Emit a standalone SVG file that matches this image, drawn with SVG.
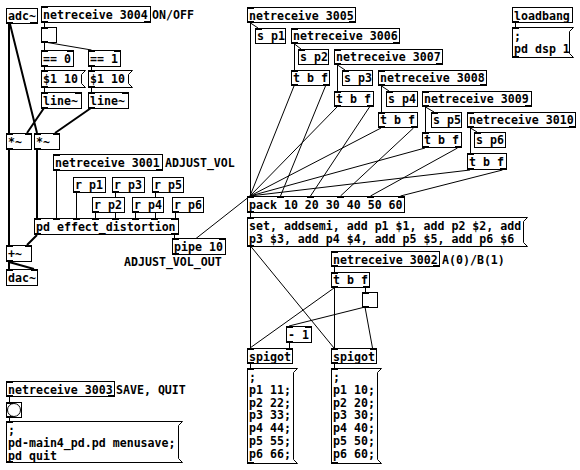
<svg xmlns="http://www.w3.org/2000/svg" width="580" height="470" viewBox="0 0 580 470">
<style>
.b{fill:#fff;stroke:#000;stroke-width:1}
.t{font-family:"DejaVu Sans Mono","Liberation Mono",monospace;font-weight:bold;font-size:11.6px;fill:#000;white-space:pre}
.c{stroke:#000;stroke-width:1;fill:none}
.s{stroke:#000;stroke-width:2;fill:none}
.io{fill:#000}
</style>
<rect width="580" height="470" fill="#fff"/>
<g id="connectors">
<!-- left control -->
<path class="c" d="M44.5,23 V27 M44.5,42 V50 M44.5,42 L91.5,50 M44.5,66 V70 M91.5,66 V70 M44.5,87 V92 M91.5,87 V92"/>
<path class="c" d="M56.5,171 V218 M76.5,193 V218 M115.5,193 V218 M155.5,193 V218 M95.5,213 V218 M135.5,213 V218 M175.5,213 V218 M174.5,235 V238"/>
<path class="c" d="M175,255 L250,196"/>
<!-- left signal -->
<path class="s" d="M9,24 V133 M10,24 L37,133 M44,108 L27,133 M91,108 L55,133 M9,150 V245 M37,150 V218 M37,235 L27,245 M9,262 V269 M9,262 L34,269"/>
<!-- right control -->
<path class="c" d="M250.5,23 L258,28 M250.5,23 V196 M294.5,44 L301,49 M294.5,44 V70 M337.5,65 L345,70 M337.5,65 V91 M381.5,86 L389,91 M381.5,86 V112 M425.5,107 L434,112 M425.5,107 V132 M470.5,128 L477,132 M470.5,128 V153"/>
<path class="c" d="M294,86 L250,196 M325.5,86 L280.5,196 M337,107 L250,196 M369.5,107 L310.5,196 M381,128 L250,196 M413.5,128 L340.5,196 M425,148 L250,196 M457.5,148 L370.5,196 M470,170 L250,196 M502.5,170 L400.5,196"/>
<path class="c" d="M250.5,213 V217 M250.5,246 V348 M250.5,246 L334,348 M334.5,267 V272 M334.5,288 V348 M334,288 L250,348 M365.5,288 V292 M365,307 L289,326 M365,307 L372.5,348 M289.5,343 V348 M250.5,364 V368 M334.5,364 V368 M515.5,23 V27 M9.5,397 V402 M9.5,417 V421"/>
</g>

<g id="adc">
<rect class="b" x="6.5" y="8.5" width="31" height="15"/>
<text class="t" x="8" y="20">adc~</text>
<rect class="io" x="6" y="22" width="7" height="2"/><rect class="io" x="30" y="22" width="7" height="2"/>
</g>
<g id="nr3004">
<rect class="b" x="41.5" y="6.5" width="109" height="16"/>
<text class="t" x="43" y="19">netreceive 3004</text>
<rect class="io" x="41" y="6" width="7" height="2"/><rect class="io" x="41" y="21" width="7" height="2"/><rect class="io" x="144" y="21" width="7" height="2"/>
<text class="t" x="152" y="19">ON/OFF</text>
</g>
<g id="toggle1">
<rect class="b" x="41.5" y="27.5" width="15" height="15"/>
<rect class="io" x="41" y="27" width="7" height="2"/><rect class="io" x="41" y="41" width="7" height="2"/>
</g>
<g id="eq0">
<rect class="b" x="41.5" y="50.5" width="32" height="16"/>
<text class="t" x="43" y="63">== 0</text>
<rect class="io" x="41" y="50" width="7" height="2"/><rect class="io" x="67" y="50" width="7" height="2"/><rect class="io" x="41" y="65" width="7" height="2"/>
</g>
<g id="eq1">
<rect class="b" x="88.5" y="50.5" width="32" height="16"/>
<text class="t" x="90" y="63">== 1</text>
<rect class="io" x="88" y="50" width="7" height="2"/><rect class="io" x="114" y="50" width="7" height="2"/><rect class="io" x="88" y="65" width="7" height="2"/>
</g>
<g id="msg1a">
<path class="b" d="M41.5,70.5 H85.5 L81.5,74.5 V83.5 L85.5,87.5 H41.5 Z"/>
<text class="t" x="43" y="83">$1 10</text>
<rect class="io" x="41" y="70" width="7" height="2"/><rect class="io" x="41" y="86" width="7" height="2"/>
</g>
<g id="msg1b">
<path class="b" d="M88.5,70.5 H132.5 L128.5,74.5 V83.5 L132.5,87.5 H88.5 Z"/>
<text class="t" x="90" y="83">$1 10</text>
<rect class="io" x="88" y="70" width="7" height="2"/><rect class="io" x="88" y="86" width="7" height="2"/>
</g>
<g id="line1">
<rect class="b" x="41.5" y="92.5" width="40" height="16"/>
<text class="t" x="43" y="105">line~</text>
<rect class="io" x="41" y="92" width="7" height="2"/><rect class="io" x="75" y="92" width="7" height="2"/><rect class="io" x="41" y="107" width="7" height="2"/>
</g>
<g id="line2">
<rect class="b" x="88.5" y="92.5" width="40" height="16"/>
<text class="t" x="90" y="105">line~</text>
<rect class="io" x="88" y="92" width="7" height="2"/><rect class="io" x="122" y="92" width="7" height="2"/><rect class="io" x="88" y="107" width="7" height="2"/>
</g>
<g id="mul1">
<rect class="b" x="6.5" y="133.5" width="25" height="16"/>
<text class="t" x="8" y="146">*~</text>
<rect class="io" x="6" y="133" width="7" height="2"/><rect class="io" x="25" y="133" width="7" height="2"/><rect class="io" x="6" y="148" width="7" height="2"/>
</g>
<g id="mul2">
<rect class="b" x="34.5" y="133.5" width="25" height="16"/>
<text class="t" x="36" y="146">*~</text>
<rect class="io" x="34" y="133" width="7" height="2"/><rect class="io" x="53" y="133" width="7" height="2"/><rect class="io" x="34" y="148" width="7" height="2"/>
</g>
<g id="nr3001">
<rect class="b" x="53.5" y="154.5" width="109" height="16"/>
<text class="t" x="55" y="167">netreceive 3001</text>
<rect class="io" x="53" y="154" width="7" height="2"/><rect class="io" x="53" y="169" width="7" height="2"/><rect class="io" x="156" y="169" width="7" height="2"/>
<text class="t" x="165" y="167">ADJUST_VOL</text>
</g>
<g id="rp1"><rect class="b" x="73.5" y="177.5" width="32" height="15"/><text class="t" x="75" y="189">r p1</text><rect class="io" x="73" y="191" width="7" height="2"/></g>
<g id="rp3"><rect class="b" x="112.5" y="177.5" width="32" height="15"/><text class="t" x="114" y="189">r p3</text><rect class="io" x="112" y="191" width="7" height="2"/></g>
<g id="rp5"><rect class="b" x="152.5" y="177.5" width="31" height="15"/><text class="t" x="154" y="189">r p5</text><rect class="io" x="152" y="191" width="7" height="2"/></g>
<g id="rp2"><rect class="b" x="92.5" y="197.5" width="32" height="15"/><text class="t" x="94" y="209">r p2</text><rect class="io" x="92" y="211" width="7" height="2"/></g>
<g id="rp4"><rect class="b" x="132.5" y="197.5" width="31" height="15"/><text class="t" x="134" y="209">r p4</text><rect class="io" x="132" y="211" width="7" height="2"/></g>
<g id="rp6"><rect class="b" x="172.5" y="197.5" width="31" height="15"/><text class="t" x="174" y="209">r p6</text><rect class="io" x="172" y="211" width="7" height="2"/></g>
<g id="effect">
<rect class="b" x="34.5" y="218.5" width="144" height="16"/>
<text class="t" x="36" y="231">pd effect_distortion</text>
<rect class="io" x="34" y="218" width="7" height="2"/><rect class="io" x="53" y="218" width="7" height="2"/><rect class="io" x="73" y="218" width="7" height="2"/><rect class="io" x="92" y="218" width="7" height="2"/><rect class="io" x="112" y="218" width="7" height="2"/><rect class="io" x="132" y="218" width="7" height="2"/><rect class="io" x="151" y="218" width="7" height="2"/><rect class="io" x="171" y="218" width="7" height="2"/>
<rect class="io" x="34" y="233" width="7" height="2"/><rect class="io" x="171" y="233" width="7" height="2"/>
</g>
<g id="pipe">
<rect class="b" x="172.5" y="238.5" width="53" height="16"/>
<text class="t" x="174" y="251">pipe 10</text>
<rect class="io" x="172" y="238" width="7" height="2"/><rect class="io" x="219" y="238" width="7" height="2"/><rect class="io" x="172" y="253" width="7" height="2"/>
<text class="t" x="124" y="266">ADJUST_VOL_OUT</text>
</g>
<g id="plus">
<rect class="b" x="6.5" y="245.5" width="25" height="16"/>
<text class="t" x="8" y="258">+~</text>
<rect class="io" x="6" y="245" width="7" height="2"/><rect class="io" x="25" y="245" width="7" height="2"/><rect class="io" x="6" y="260" width="7" height="2"/>
</g>
<g id="dac">
<rect class="b" x="6.5" y="269.5" width="31" height="16"/>
<text class="t" x="8" y="282">dac~</text>
<rect class="io" x="6" y="269" width="7" height="2"/><rect class="io" x="31" y="269" width="7" height="2"/>
</g>

<g id="nr3003">
<rect class="b" x="6.5" y="381.5" width="108" height="15"/>
<text class="t" x="8" y="394">netreceive 3003</text>
<rect class="io" x="6" y="381" width="7" height="2"/><rect class="io" x="6" y="395" width="7" height="2"/><rect class="io" x="108" y="395" width="7" height="2"/>
<text class="t" x="116" y="394">SAVE, QUIT</text>
</g>
<g id="bang">
<rect class="b" x="6.5" y="402.5" width="15" height="15"/>
<circle class="b" cx="14" cy="410" r="6.5"/>
<rect class="io" x="6" y="402" width="7" height="2"/><rect class="io" x="6" y="416" width="7" height="2"/>
</g>
<g id="msgsave">
<path class="b" d="M6.5,421.5 H182.5 L178.5,425.5 V458.5 L182.5,462.5 H6.5 Z"/>
<text class="t" x="8" y="434">;</text>
<text class="t" x="8" y="447">pd-main4_pd.pd menusave;</text>
<text class="t" x="8" y="460">pd quit</text>
<rect class="io" x="6" y="421" width="7" height="2"/><rect class="io" x="6" y="461" width="7" height="2"/>
</g>

<g id="nr3005">
<rect class="b" x="247.5" y="7.5" width="108" height="15"/>
<text class="t" x="249" y="20">netreceive 3005</text>
<rect class="io" x="247" y="7" width="7" height="2"/><rect class="io" x="247" y="21" width="7" height="2"/><rect class="io" x="349" y="21" width="7" height="2"/>
</g>
<g id="loadbang">
<rect class="b" x="512.5" y="7.5" width="60" height="15"/>
<text class="t" x="514" y="20">loadbang</text>
<rect class="io" x="512" y="21" width="7" height="2"/>
</g>
<g id="msgdsp">
<path class="b" d="M512.5,27.5 H573.5 L569.5,31.5 V53.5 L573.5,57.5 H512.5 Z"/>
<text class="t" x="514" y="40">;</text>
<text class="t" x="514" y="53">pd dsp 1</text>
<rect class="io" x="512" y="27" width="7" height="2"/><rect class="io" x="512" y="56" width="7" height="2"/>
</g>
<g id="sp1"><rect class="b" x="255.5" y="28.5" width="30" height="15"/><text class="t" x="257" y="40">s p1</text><rect class="io" x="255" y="28" width="7" height="2"/></g>
<g id="nr3006">
<rect class="b" x="291.5" y="28.5" width="108" height="15"/>
<text class="t" x="293" y="40">netreceive 3006</text>
<rect class="io" x="291" y="28" width="7" height="2"/><rect class="io" x="291" y="42" width="7" height="2"/><rect class="io" x="393" y="42" width="7" height="2"/>
</g>
<g id="sp2"><rect class="b" x="298.5" y="49.5" width="30" height="15"/><text class="t" x="300" y="61">s p2</text><rect class="io" x="298" y="49" width="7" height="2"/></g>
<g id="nr3007">
<rect class="b" x="334.5" y="49.5" width="108" height="15"/>
<text class="t" x="336" y="61">netreceive 3007</text>
<rect class="io" x="334" y="49" width="7" height="2"/><rect class="io" x="334" y="63" width="7" height="2"/><rect class="io" x="436" y="63" width="7" height="2"/>
</g>
<g id="tbf1">
<rect class="b" x="291.5" y="70.5" width="38" height="15"/>
<text class="t" x="293" y="82">t b f</text>
<rect class="io" x="291" y="70" width="7" height="2"/><rect class="io" x="291" y="84" width="7" height="2"/><rect class="io" x="323" y="84" width="7" height="2"/>
</g>
<g id="sp3"><rect class="b" x="342.5" y="70.5" width="30" height="15"/><text class="t" x="344" y="82">s p3</text><rect class="io" x="342" y="70" width="7" height="2"/></g>
<g id="nr3008">
<rect class="b" x="378.5" y="70.5" width="108" height="15"/>
<text class="t" x="380" y="82">netreceive 3008</text>
<rect class="io" x="378" y="70" width="7" height="2"/><rect class="io" x="378" y="84" width="7" height="2"/><rect class="io" x="480" y="84" width="7" height="2"/>
</g>
<g id="tbf2">
<rect class="b" x="334.5" y="91.5" width="39" height="15"/>
<text class="t" x="336" y="103">t b f</text>
<rect class="io" x="334" y="91" width="7" height="2"/><rect class="io" x="334" y="105" width="7" height="2"/><rect class="io" x="367" y="105" width="7" height="2"/>
</g>
<g id="sp4"><rect class="b" x="386.5" y="91.5" width="31" height="15"/><text class="t" x="388" y="103">s p4</text><rect class="io" x="386" y="91" width="7" height="2"/></g>
<g id="nr3009">
<rect class="b" x="422.5" y="91.5" width="109" height="15"/>
<text class="t" x="424" y="103">netreceive 3009</text>
<rect class="io" x="422" y="91" width="7" height="2"/><rect class="io" x="422" y="105" width="7" height="2"/><rect class="io" x="525" y="105" width="7" height="2"/>
</g>
<g id="tbf3">
<rect class="b" x="378.5" y="112.5" width="39" height="15"/>
<text class="t" x="380" y="124">t b f</text>
<rect class="io" x="378" y="112" width="7" height="2"/><rect class="io" x="378" y="126" width="7" height="2"/><rect class="io" x="411" y="126" width="7" height="2"/>
</g>
<g id="sp5"><rect class="b" x="431.5" y="112.5" width="30" height="15"/><text class="t" x="433" y="124">s p5</text><rect class="io" x="431" y="112" width="7" height="2"/></g>
<g id="nr3010">
<rect class="b" x="467.5" y="112.5" width="108" height="15"/>
<text class="t" x="469" y="124">netreceive 3010</text>
<rect class="io" x="467" y="112" width="7" height="2"/><rect class="io" x="467" y="126" width="7" height="2"/><rect class="io" x="569" y="126" width="7" height="2"/>
</g>
<g id="tbf4">
<rect class="b" x="422.5" y="132.5" width="39" height="15"/>
<text class="t" x="424" y="144">t b f</text>
<rect class="io" x="422" y="132" width="7" height="2"/><rect class="io" x="422" y="146" width="7" height="2"/><rect class="io" x="455" y="146" width="7" height="2"/>
</g>
<g id="sp6"><rect class="b" x="474.5" y="132.5" width="31" height="15"/><text class="t" x="476" y="144">s p6</text><rect class="io" x="474" y="132" width="7" height="2"/></g>
<g id="tbf5">
<rect class="b" x="467.5" y="153.5" width="39" height="16"/>
<text class="t" x="469" y="166">t b f</text>
<rect class="io" x="467" y="153" width="7" height="2"/><rect class="io" x="467" y="168" width="7" height="2"/><rect class="io" x="500" y="168" width="7" height="2"/>
</g>
<g id="pack">
<rect class="b" x="247.5" y="196.5" width="157" height="16"/>
<text class="t" x="249" y="209">pack 10 20 30 40 50 60</text>
<rect class="io" x="247" y="196" width="7" height="2"/><rect class="io" x="277" y="196" width="7" height="2"/><rect class="io" x="307" y="196" width="7" height="2"/><rect class="io" x="337" y="196" width="7" height="2"/><rect class="io" x="367" y="196" width="7" height="2"/><rect class="io" x="398" y="196" width="7" height="2"/>
<rect class="io" x="247" y="211" width="7" height="2"/>
</g>
<g id="msgset">
<path class="b" d="M247.5,217.5 H527.5 L523.5,221.5 V242.5 L527.5,246.5 H247.5 Z"/>
<text class="t" x="249" y="230">set, addsemi, add p1 $1, add p2 $2, add</text>
<text class="t" x="249" y="243">p3 $3, add p4 $4, add p5 $5, add p6 $6</text>
<rect class="io" x="247" y="217" width="7" height="2"/><rect class="io" x="247" y="245" width="7" height="2"/>
</g>
<g id="nr3002">
<rect class="b" x="331.5" y="251.5" width="108" height="15"/>
<text class="t" x="333" y="264">netreceive 3002</text>
<rect class="io" x="331" y="251" width="7" height="2"/><rect class="io" x="331" y="265" width="7" height="2"/><rect class="io" x="433" y="265" width="7" height="2"/>
<text class="t" x="442" y="264">A(0)/B(1)</text>
</g>
<g id="tbf6">
<rect class="b" x="331.5" y="272.5" width="38" height="15"/>
<text class="t" x="333" y="284">t b f</text>
<rect class="io" x="331" y="272" width="7" height="2"/><rect class="io" x="331" y="286" width="7" height="2"/><rect class="io" x="363" y="286" width="7" height="2"/>
</g>
<g id="toggle2">
<rect class="b" x="362.5" y="292.5" width="15" height="15"/>
<rect class="io" x="362" y="292" width="7" height="2"/><rect class="io" x="362" y="306" width="7" height="2"/>
</g>
<g id="minus1">
<rect class="b" x="286.5" y="326.5" width="25" height="16"/>
<text class="t" x="288" y="339">- 1</text>
<rect class="io" x="286" y="326" width="7" height="2"/><rect class="io" x="305" y="326" width="7" height="2"/><rect class="io" x="286" y="341" width="7" height="2"/>
</g>
<g id="spigot1">
<rect class="b" x="247.5" y="348.5" width="45" height="15"/>
<text class="t" x="249" y="361">spigot</text>
<rect class="io" x="247" y="348" width="7" height="2"/><rect class="io" x="286" y="348" width="7" height="2"/><rect class="io" x="247" y="362" width="7" height="2"/>
</g>
<g id="spigot2">
<rect class="b" x="331.5" y="348.5" width="45" height="15"/>
<text class="t" x="333" y="361">spigot</text>
<rect class="io" x="331" y="348" width="7" height="2"/><rect class="io" x="370" y="348" width="7" height="2"/><rect class="io" x="331" y="362" width="7" height="2"/>
</g>
<g id="msgA">
<path class="b" d="M247.5,368.5 H297.5 L293.5,372.5 V459.5 L297.5,463.5 H247.5 Z"/>
<text class="t" x="249" y="381">;</text>
<text class="t" x="249" y="394">p1 11;</text>
<text class="t" x="249" y="406.6">p2 22;</text>
<text class="t" x="249" y="419.4">p3 33;</text>
<text class="t" x="249" y="432.2">p4 44;</text>
<text class="t" x="249" y="445">p5 55;</text>
<text class="t" x="249" y="457.8">p6 66;</text>
<rect class="io" x="247" y="368" width="7" height="2"/><rect class="io" x="247" y="462" width="7" height="2"/>
</g>
<g id="msgB">
<path class="b" d="M331.5,368.5 H381.5 L377.5,372.5 V459.5 L381.5,463.5 H331.5 Z"/>
<text class="t" x="333" y="381">;</text>
<text class="t" x="333" y="394">p1 10;</text>
<text class="t" x="333" y="406.6">p2 20;</text>
<text class="t" x="333" y="419.4">p3 30;</text>
<text class="t" x="333" y="432.2">p4 40;</text>
<text class="t" x="333" y="445">p5 50;</text>
<text class="t" x="333" y="457.8">p6 60;</text>
<rect class="io" x="331" y="368" width="7" height="2"/><rect class="io" x="331" y="462" width="7" height="2"/>
</g>
</svg>
